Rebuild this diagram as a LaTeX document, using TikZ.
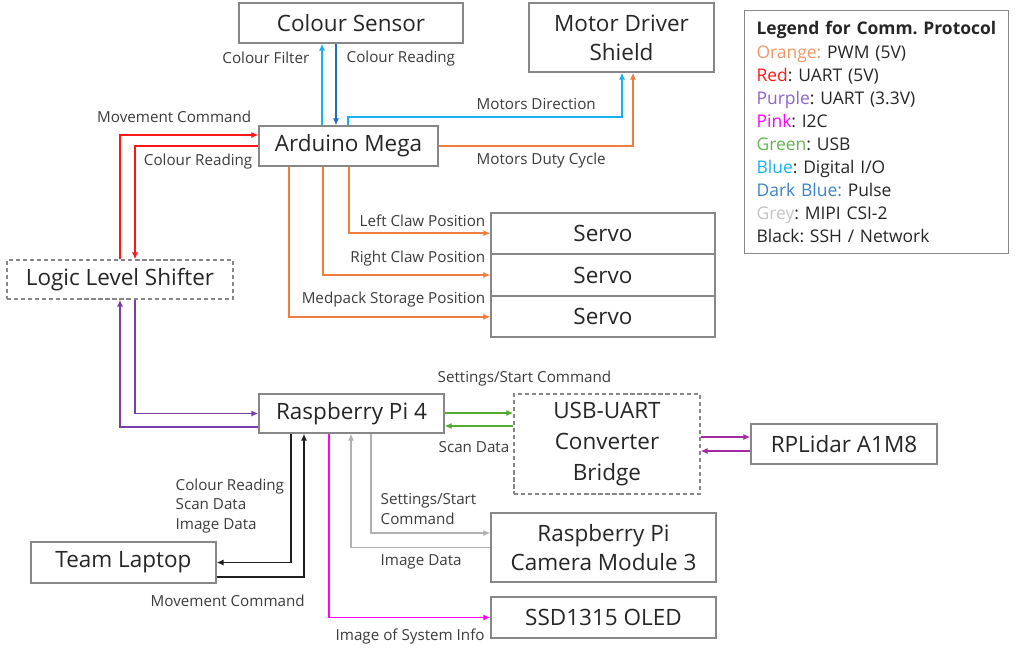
\documentclass[tikz,border=0pt]{standalone}
\usepackage{fontspec}
\setmainfont{Open Sans}
\usepackage{tikz}
\usetikzlibrary{positioning}
\usetikzlibrary{arrows.meta}
\frenchspacing
\definecolor{orng}{RGB}{238,125,62}
\definecolor{red}{RGB}{255,22,22}
\definecolor{purp}{RGB}{122,62,172}
\definecolor{pink}{RGB}{255,0,255}
\definecolor{grn}{RGB}{82,172,52}
\definecolor{lblue}{RGB}{24,176,240}
\definecolor{dblue}{RGB}{30,110,190}
\definecolor{gry}{RGB}{178,178,178}
\definecolor{blk}{RGB}{30,30,30}
\definecolor{mgnt}{RGB}{162,42,160}
\definecolor{boxgrey}{RGB}{135,135,135}
\definecolor{txt}{RGB}{38,38,38}
\definecolor{lbltxt}{RGB}{60,60,60}
% legend word colours
\definecolor{lorng}{RGB}{242,150,100}
\definecolor{lpurp}{RGB}{140,100,200}
\definecolor{lgrn}{RGB}{100,180,80}
\definecolor{ldblue}{RGB}{60,130,200}
\definecolor{lgry}{RGB}{195,195,195}

\begin{document}
\begin{tikzpicture}[x=0.025cm, y=-0.025cm, node distance=0.1cm, >={Latex[length=5pt,width=4.5pt]},
box/.style={draw=boxgrey, line width=0.9pt, inner sep=0pt, text=txt, font=\fontsize{16}{20.6}\selectfont, align=center},
lbl/.style={inner sep=1pt, text=lbltxt, font=\fontsize{10.8}{13.8}\selectfont, align=left},
wire/.style={line width=1.3pt, ->, draw=#1},
legend/.style={draw=boxgrey, line width=0.9pt, text=txt, text width=6cm, inner xsep=0.3cm, minimum height=6.075cm, align=left, font=\fontsize{12.4}{16.4}\selectfont}]

\useasboundingbox (0,0) rectangle (1034,660);

% blocks
\node [box, minimum width=5.6cm, minimum height=1cm] (sensor) at (351,23) {Colour Sensor};
\node [box, minimum width=4.625cm, minimum height=1.725cm] (shield) at (621.5,37.5) {Motor Driver\\Shield};
\node [box, minimum width=4.475cm, minimum height=1cm] (ard) at (348.5,146) {Arduino Mega};
\node [box, minimum width=5.6cm, minimum height=1.0125cm] (servo1) at (603,233.25) {Servo};
\node [box, minimum width=5.6cm, minimum height=1.0125cm, below = 0pt of servo1] (servo2) {Servo};
\node [box, minimum width=5.6cm, minimum height=1.0125cm, below = 0pt of servo2] (servo3) {Servo};
\node [box, dashed, dash pattern=on 3pt off 2pt, minimum width=5.65cm, minimum height=0.975cm] (lls) at (120,279.5) {Logic Level Shifter};
\node [box, minimum width=4.625cm, minimum height=0.975cm] (rpi) at (351.5,413.5) {Raspberry Pi 4};
\node [box, dashed, dash pattern=on 3pt off 2pt, minimum width=4.65cm, minimum height=2.5cm, font=\fontsize{16}{22}\selectfont] (usb) at (607,444) {USB-UART\\Converter\\Bridge};
\node [box, minimum width=4.65cm, minimum height=1cm] (lidar) at (844,444) {RPLidar A1M8};
\node [box, minimum width=4.625cm, minimum height=1.025cm] (laptop) at (123.5,562.5) {Team Laptop};
\node [box, minimum width=5.625cm, minimum height=1.725cm] (cam) at (603.5,547.5) {Raspberry Pi\\Camera Module 3};
\node [box, minimum width=5.625cm, minimum height=1.025cm] (oled) at (603.5,617.5) {SSD1315 OLED};

\node [legend, anchor=north west] (leg) at (744,10) {\textbf{Legend for Comm. Protocol}\\
\textcolor{lorng}{Orange:} PWM (5V)\\
\textcolor{red}{Red}: UART (5V)\\
\textcolor{lpurp}{Purple}: UART (3.3V)\\
\textcolor{pink}{Pink}: I2C\\
\textcolor{lgrn}{Green}: USB\\
\textcolor{lblue}{Blue}: Digital I/O\\
\textcolor{ldblue}{Dark Blue:} Pulse\\
\textcolor{lgry}{Grey}: MIPI CSI-2\\
Black: SSH / Network};

% bend points of the wires
\coordinate (cf) at (322,0) {};
\coordinate (cr) at (336,0) {};
\coordinate (md) at (348,117) {};
\coordinate (mdb) at (622,117) {};
\coordinate (dc) at (633,0) {};
\coordinate (mc) at (120,135) {};
\coordinate (crr) at (135,0) {};
\coordinate (s1) at (349,0) {};
\coordinate (s2) at (323,0) {};
\coordinate (s3) at (289,0) {};
\coordinate (p1) at (135,0) {};
\coordinate (p2) at (120,427) {};
\coordinate (g1) at (0,413) {};
\coordinate (g2) at (0,426) {};
\coordinate (l1) at (0,437) {};
\coordinate (l2) at (0,451) {};
\coordinate (k1) at (291,0) {};
\coordinate (k2) at (304,577) {};
\coordinate (g3) at (371,533) {};
\coordinate (g4) at (351,0) {};
\coordinate (pk) at (329,0) {};

\draw [wire=lblue] (ard.north -| cf) -- (sensor.south -| cf);
\draw [wire=dblue] (sensor.south -| cr) -- (ard.north -| cr);
\draw [wire=lblue] (ard.north -| md) -- (md) -- (mdb) -- (shield.south -| mdb);
\draw [wire=orng] (ard.east) -| (shield.south -| dc);
\draw [wire=red] (lls.north -| mc) |- (ard.west |- mc);
\draw [wire=red] (ard.west) -| (lls.north -| crr);
\draw [wire=orng] (ard.south -| s1) |- (servo1.west);
\draw [wire=orng] (ard.south -| s2) |- (servo2.west);
\draw [wire=orng] (ard.south -| s3) |- (servo3.west);
\draw [wire=purp] (lls.south -| p1) |- (rpi.west);
\draw [wire=purp] (rpi.west |- p2) -| (lls.south -| p2);
\draw [wire=grn] (rpi.east |- g1) -- (usb.west |- g1);
\draw [wire=grn] (usb.west |- g2) -- (rpi.east |- g2);
\draw [wire=mgnt] (usb.east |- l1) -- (lidar.west |- l1);
\draw [wire=mgnt] (lidar.west |- l2) -- (usb.east |- l2);
\draw [wire=blk] (rpi.south -| k1) |- (laptop.east);
\draw [wire=blk] (laptop.east |- k2) -| (rpi.south -| k2);
\draw [wire=gry] (rpi.south -| g3) |- (cam.west |- g3);
\draw [wire=gry] (cam.west) -| (rpi.south -| g4);
\draw [wire=pink] (rpi.south -| pk) |- (oled.west);

% labels
\node [lbl, anchor=east] (tfilter) at (311,58) {Colour Filter};
\node [lbl, anchor=west] (tread) at (345,59) {Colour Reading};
\node [lbl, anchor=west] (tdir) at (475,104) {Motors Direction};
\node [lbl, anchor=west] (tduty) at (475,161) {Motors Duty Cycle};
\node [lbl, anchor=east] (tmove) at (253,117) {Movement Command};
\node [lbl, anchor=east] (tread2) at (254,162) {Colour Reading};
\node [lbl, anchor=east] (tleft) at (487,221) {Left Claw Position};
\node [lbl, anchor=east] (tright) at (487,259) {Right Claw Position};
\node [lbl, anchor=east] (tmed) at (487,300) {Medpack Storage Position};
\node [lbl, anchor=west] (tset) at (436,379) {Settings/Start Command};
\node [lbl, anchor=west] (tscan) at (437,447) {Scan Data};
\node [lbl, anchor=west] (tdata) at (174,506) {Colour Reading\\Scan Data\\Image Data};
\node [lbl, anchor=west] (tmove2) at (149,601) {Movement Command};
\node [lbl, anchor=west] (tset2) at (379,509) {Settings/Start\\Command};
\node [lbl, anchor=west] (timg) at (379,562) {Image Data};
\node [lbl, anchor=west] (tsys) at (334,637) {Image of System Info};
\end{tikzpicture}
\end{document}
